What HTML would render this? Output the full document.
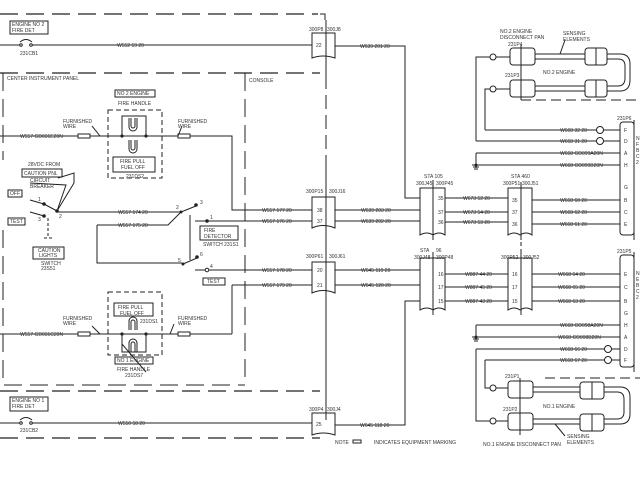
<!DOCTYPE html>
<html><head><meta charset="utf-8"><style>
html,body{margin:0;padding:0;background:#fff;width:640px;height:480px;overflow:hidden}
svg text{font-family:"Liberation Sans",sans-serif;font-size:5px;fill:#333}
</style></head><body>
<svg width="640" height="480" viewBox="0 0 640 480" xmlns="http://www.w3.org/2000/svg">
<g stroke="#222" stroke-width="1" fill="none">
<!-- dashed bounds -->
<path d="M0 14H318" stroke-dasharray="18,8" stroke-width="1.3"/>
<path d="M320 14H325V20"/>
<path d="M0 73H320" stroke-dasharray="18,8" stroke-width="1.3"/>
<path d="M3 73V160" stroke-dasharray="18,8"/>
<path d="M3 230V385H245" stroke-dasharray="18,8"/>
<path d="M245 73V385" stroke-dasharray="18,8"/>
<path d="M0 391H320" stroke-dasharray="18,8" stroke-width="1.3"/>
<path d="M0 438H320" stroke-dasharray="18,8" stroke-width="1.3"/>
<path d="M326 20V75M326 160V420" />
<path d="M326 75V160" stroke-dasharray="14,6"/>
<path d="M521 235V258" stroke-dasharray="4,3"/>
<!-- top fire det -->
<rect x="10" y="21" width="38" height="13"/>
<path d="M0 45H20M32 45H312"/>
<circle cx="21" cy="45" r="1.3"/><circle cx="31" cy="45" r="1.3"/>
<path d="M20 42Q26 37 32 42"/>
<path d="M312 33H335V58Q323 54 312 58Z"/>
<path d="M335 46H405V198H420"/>
<!-- bottom fire det -->
<rect x="10" y="397" width="38" height="14"/>
<path d="M0 423H20M32 423H312"/>
<circle cx="21" cy="423" r="1.3"/><circle cx="31" cy="423" r="1.3"/>
<path d="M20 420Q26 415 32 420"/>
<path d="M312 413H335V435Q323 431 312 435Z"/>
<path d="M335 425H405V301H420"/>
<!-- upper fire handle -->
<rect x="115" y="90" width="40" height="7"/>
<path d="M108 110H162V178H108Z" stroke-dasharray="5,3"/>
<path d="M0 136H78M90 136H178M190 136H232V210H312"/>
<rect x="78" y="134" width="12" height="4"/><rect x="178" y="134" width="12" height="4"/>
<path d="M92 126L100 136M178 136L182 126"/>
<path d="M122 136V116H146V136"/>
<path d="M129 118V127A4 4 0 0 0 137 127V118M131 118V126A2 2 0 0 0 135 126V118"/>
<path d="M129 140V149A4 4 0 0 0 137 149V140M131 140V148A2 2 0 0 0 135 148V140"/>
<rect x="113" y="157" width="42" height="15"/>
<!-- caution switch -->
<rect x="22" y="169" width="40" height="8"/>
<rect x="8" y="190" width="14" height="7"/>
<rect x="8" y="218" width="17" height="7"/>
<path d="M57 211L74 183V173L58 178M57 211L66 185L30 183"/>
<path d="M30 200L44 204M30 212L44 216M44 204L57 211"/>
<path d="M48 218V238M44 238H52" stroke-dasharray="3,2"/>
<rect x="33" y="247" width="31" height="12"/>
<path d="M57 212H180"/>
<path d="M97 225H168L180 213M97 225V263H182"/>
<path d="M181 212L196 206M190 215V260" stroke-dasharray="0"/>
<path d="M190 215V260" stroke-dasharray="3,2"/>
<path d="M195 221H312"/>
<path d="M183 264L197 258M195 270H312"/>
<rect x="200" y="226" width="38" height="14"/>
<rect x="203" y="278" width="22" height="7"/>
<path d="M232 285H312M232 285V334"/>
<!-- lower fire handle -->
<path d="M108 292H162V355H108Z" stroke-dasharray="5,3"/>
<rect x="114" y="303" width="39" height="13"/>
<path d="M0 334H78M90 334H178M190 334H232"/>
<rect x="78" y="332" width="12" height="4"/><rect x="178" y="332" width="12" height="4"/>
<path d="M92 326L100 334M170 334L174 324"/>
<path d="M122 334V352H146V334"/>
<path d="M129 330V321A4 4 0 0 1 137 321V330M131 330V322A2 2 0 0 1 135 322V330"/>
<path d="M129 352V343A4 4 0 0 1 137 343V352M131 352V344A2 2 0 0 1 135 344V352"/>
<path d="M122 344L146 372"/>
<rect x="115" y="357" width="38" height="7"/>
<!-- connectors mid -->
<path d="M312 197H335V228Q323 223 312 228Z"/>
<path d="M312 262H335V293Q323 288 312 293Z"/>
<path d="M335 210H420M335 221H420M335 270H420M335 285H420"/>
<path d="M420 188H445V235Q439 231 433 235Q427 231 420 235Z"/><path d="M433 180V240"/>
<path d="M508 188H532V235Q526 231 520 235Q514 231 508 235Z"/><path d="M521 182V240"/>
<path d="M445 198H508M445 212H508M445 222H508M532 200H620M532 212H620M532 224H620"/>
<path d="M420 258H445V310Q439 306 433 310Q427 306 420 310Z"/><path d="M433 252V315"/>
<path d="M508 258H532V310Q526 306 520 310Q514 306 508 310Z"/><path d="M521 252V315"/>
<path d="M445 274H508M445 287H508M445 301H508M532 274H620M532 287H620M532 301H620"/>
<!-- 231P6 / P5 -->
<rect x="620" y="122" width="14" height="113" rx="3"/><path d="M634 120V240"/>
<rect x="620" y="255" width="14" height="112" rx="3"/><path d="M634 252V372"/>
<path d="M485 130H620M476 141H620M476 153H620M476 165H620M476 153V168"/>
<circle cx="600" cy="130" r="3.5" fill="#fff"/><circle cx="600" cy="141" r="3.5" fill="#fff"/>
<path d="M472 165H480M473 167H479M474 169H478"/>
<path d="M476 325H620M476 337H620M476 349H620M485 360H620M476 325V340"/>
<path d="M472 337H480M473 339H479M474 341H478"/>
<circle cx="608" cy="349" r="3.5" fill="#fff"/><circle cx="608" cy="360" r="3.5" fill="#fff"/>
<!-- top loops -->
<path d="M476 141V57H490M485 130V89H490"/>
<circle cx="493" cy="57" r="3" fill="#fff"/><circle cx="493" cy="89" r="3" fill="#fff"/>
<path d="M496 57H510M496 89H510"/>
<rect x="510" y="48" width="25" height="17" rx="3"/><rect x="510" y="80" width="25" height="17" rx="3"/>
<rect x="585" y="48" width="22" height="17" rx="3"/><rect x="585" y="80" width="22" height="17" rx="3"/>
<path d="M521 45V100M596 48V65M596 80V97"/>
<path d="M535 54H585M535 59H585M535 86H585M535 91H585"/>
<path d="M607 54H620Q630 54 630 64V80Q630 91 620 91H607M607 59H618Q625 59 625 66V78Q625 86 618 86H607"/>
<path d="M521 100H640" stroke-dasharray="10,5"/>
<path d="M565 40L560 54"/>
<!-- bottom loops -->
<path d="M485 360V388H490M476 349V421H490"/>
<circle cx="493" cy="388" r="3" fill="#fff"/><circle cx="493" cy="421" r="3" fill="#fff"/>
<path d="M496 388H508M496 421H508"/>
<rect x="508" y="381" width="25" height="17" rx="3"/><rect x="508" y="413" width="25" height="17" rx="3"/>
<rect x="580" y="382" width="24" height="17" rx="3"/><rect x="580" y="414" width="24" height="17" rx="3"/>
<path d="M520 378V435M592 382V399M592 414V431"/>
<path d="M533 387H580M533 392H580M533 419H580M533 424H580"/>
<path d="M604 387H620Q630 387 630 397V414Q630 424 620 424H604M604 392H617Q624 392 624 399V412Q624 419 617 419H604"/>
<path d="M545 378H640" stroke-dasharray="10,5"/>
<path d="M555 424L565 436"/>
<rect x="353" y="440" width="8" height="3"/>
</g>
<g fill="#222">
<circle cx="122" cy="136" r="1.6"/><circle cx="146" cy="136" r="1.6"/>
<circle cx="122" cy="334" r="1.6"/><circle cx="146" cy="334" r="1.6"/>
<circle cx="44" cy="204" r="1.8"/><circle cx="44" cy="216" r="1.8"/><circle cx="57" cy="211" r="1.8"/>
<circle cx="196" cy="205" r="1.8"/><circle cx="207" cy="221" r="1.8"/><circle cx="181" cy="212" r="1.5"/>
<circle cx="197" cy="257" r="1.8"/><circle cx="183" cy="264" r="1.5"/>
<circle cx="476" cy="165" r="1.5"/><circle cx="476" cy="337" r="1.5"/>
</g>
<circle cx="207" cy="270" r="1.8" fill="#fff" stroke="#222"/>
<g>
<text x="12" y="26">ENGINE NO 2</text><text x="12" y="32">FIRE DET</text>
<text x="20" y="55">231CB1</text><text x="117" y="47">W552 59 20</text>
<text x="309" y="31">300P8</text><text x="327" y="31">300J8</text><text x="316" y="47">22</text>
<text x="360" y="48">W639 201 20</text>
<text x="7" y="80">CENTER INSTRUMENT PANEL</text><text x="249" y="82">CONSOLE</text>
<text x="117" y="95">NO 2 ENGINE</text><text x="118" y="105">FIRE HANDLE</text>
<text x="63" y="123">FURNISHED</text><text x="63" y="128">WIRE</text>
<text x="178" y="123">FURNISHED</text><text x="178" y="128">WIRE</text>
<text x="20" y="138">W557 GD031E20N</text>
<text x="120" y="163">FIRE PULL</text><text x="121" y="169">FUEL OFF</text><text x="126" y="178">231DS2</text>
<text x="28" y="166">28VDC FROM</text><text x="24" y="175">CAUTION PNL</text>
<text x="30" y="182">CIRCUIT</text><text x="30" y="188">BREAKER</text>
<text x="10" y="195">OFF</text><text x="10" y="223">TEST</text>
<text x="38" y="201">1</text><text x="38" y="221">3</text><text x="59" y="218">2</text>
<text x="118" y="214">W557 174 20</text><text x="118" y="227">W557 175 20</text>
<text x="176" y="209">2</text><text x="200" y="204">3</text><text x="210" y="219">1</text>
<text x="204" y="232">FIRE</text><text x="204" y="238">DETECTOR</text><text x="203" y="246">SWITCH 231S1</text>
<text x="38" y="252">CAUTION</text><text x="39" y="257">LIGHTS</text>
<text x="41" y="265">SWITCH</text><text x="41" y="270">23S51</text>
<text x="178" y="262">5</text><text x="200" y="256">6</text><text x="210" y="268">4</text>
<text x="207" y="283">TEST</text>
<text x="262" y="212">W557 177 20</text><text x="262" y="223">W557 176 20</text>
<text x="262" y="272">W557 178 20</text><text x="262" y="287">W557 179 20</text>
<text x="306" y="193">300P15</text><text x="329" y="193">300J16</text>
<text x="317" y="212">38</text><text x="317" y="223">37</text>
<text x="306" y="258">300P61</text><text x="329" y="258">300J61</text>
<text x="317" y="272">20</text><text x="317" y="287">21</text>
<text x="361" y="212">W639 203 20</text><text x="361" y="223">W639 202 20</text>
<text x="361" y="272">W645 119 20</text><text x="361" y="287">W645 120 20</text>
<text x="424" y="178">STA 105</text><text x="416" y="185">300J45</text><text x="436" y="185">300P45</text>
<text x="438" y="200">35</text><text x="438" y="214">37</text><text x="438" y="224">36</text>
<text x="463" y="200">W673 52 20</text><text x="463" y="214">W673 54 20</text><text x="463" y="224">W673 53 20</text>
<text x="511" y="178">STA 460</text><text x="503" y="185">300P51</text><text x="522" y="185">300J51</text>
<text x="512" y="202">35</text><text x="512" y="214">37</text><text x="512" y="226">36</text>
<text x="560" y="202">W668 60 20</text><text x="560" y="214">W668 62 20</text><text x="560" y="226">W668 61 20</text>
<text x="420" y="252">STA</text><text x="436" y="252">96</text><text x="414" y="259">300J48</text><text x="436" y="259">300P48</text>
<text x="438" y="276">16</text><text x="438" y="289">17</text><text x="438" y="303">15</text>
<text x="465" y="276">W887 44 20</text><text x="465" y="289">W887 45 20</text><text x="465" y="303">W887 43 20</text>
<text x="501" y="259">300P52</text><text x="523" y="259">300J52</text>
<text x="512" y="276">16</text><text x="512" y="289">17</text><text x="512" y="303">15</text>
<text x="558" y="276">W668 64 20</text><text x="558" y="289">W668 65 20</text><text x="558" y="303">W668 63 20</text>
<text x="500" y="33">NO.2 ENGINE</text><text x="500" y="39">DISCONNECT PAN</text>
<text x="563" y="35">SENSING</text><text x="563" y="41">ELEMENTS</text>
<text x="508" y="46">231P4</text><text x="505" y="77">231P3</text><text x="543" y="74">NO.2 ENGINE</text>
<text x="617" y="120">231P6</text><text x="617" y="253">231P5</text>
<text x="560" y="132">W668 32 20</text><text x="560" y="143">W668 31 20</text>
<text x="560" y="155">W668 CO099A20N</text><text x="560" y="167">W668 CO099B20N</text>
<text x="624" y="132">F</text><text x="624" y="143">D</text><text x="624" y="155">A</text><text x="624" y="167">H</text>
<text x="624" y="189">G</text><text x="624" y="202">B</text><text x="624" y="214">C</text><text x="624" y="226">E</text>
<text x="636" y="140">N</text><text x="636" y="146">F</text><text x="636" y="152">B</text><text x="636" y="158">C</text><text x="636" y="164">2</text>
<text x="624" y="276">E</text><text x="624" y="289">C</text><text x="624" y="303">B</text><text x="624" y="315">G</text>
<text x="624" y="327">H</text><text x="624" y="339">A</text><text x="624" y="351">D</text><text x="624" y="362">F</text>
<text x="636" y="275">N</text><text x="636" y="281">E</text><text x="636" y="287">B</text><text x="636" y="293">C</text><text x="636" y="299">2</text>
<text x="560" y="327">W668 CO098A20N</text><text x="558" y="339">W668 CO098B20N</text>
<text x="560" y="351">W668 66 20</text><text x="560" y="362">W668 67 20</text>
<text x="505" y="378">231P1</text><text x="503" y="411">231P2</text><text x="543" y="408">NO.1 ENGINE</text>
<text x="567" y="438">SENSING</text><text x="567" y="444">ELEMENTS</text>
<text x="483" y="446">NO.1 ENGINE DISCONNECT PAN</text>
<text x="335" y="444">NOTE</text><text x="374" y="444">INDICATES EQUIPMENT MARKING</text>
<text x="118" y="309">FIRE PULL</text><text x="120" y="315">FUEL OFF</text>
<text x="140" y="323">231DS1</text>
<text x="63" y="320">FURNISHED</text><text x="63" y="325">WIRE</text>
<text x="178" y="320">FURNISHED</text><text x="178" y="325">WIRE</text>
<text x="20" y="336">W557 GD031C20N</text>
<text x="117" y="362">NO 1 ENGINE</text><text x="117" y="371">FIRE HANDLE</text><text x="125" y="377">231DS7</text>
<text x="12" y="402">ENGINE NO 1</text><text x="12" y="408">FIRE DET</text>
<text x="20" y="432">231CB2</text><text x="118" y="425">W550 58 20</text>
<text x="309" y="411">300P4</text><text x="327" y="411">300J4</text><text x="316" y="426">25</text>
<text x="360" y="427">W645 118 20</text>
</g>
</svg>
</body></html>
